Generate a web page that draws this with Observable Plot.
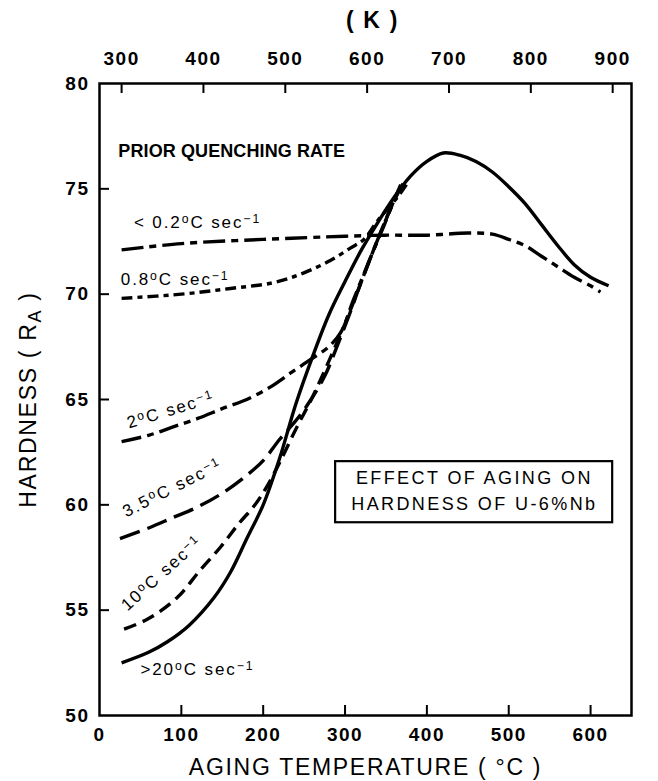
<!DOCTYPE html>
<html>
<head>
<meta charset="utf-8">
<script src="https://cdn.jsdelivr.net/npm/d3@7"></script>
<script src="https://cdn.jsdelivr.net/npm/@observablehq/plot@0.6"></script>
<style>
  html, body { margin: 0; padding: 0; background: #fff; }
  svg text { font-family: "Liberation Sans", Arial, Helvetica, sans-serif; }
  svg g[aria-label$="tick label"] text { letter-spacing: 1.5px; }
  .curvelbl text { letter-spacing: 1.9px; }
  .boxtxt text { letter-spacing: 2.4px; }
  .hdr text { letter-spacing: 0.1px; }
  .title text { letter-spacing: 1.7px; }
</style>
</head>
<body>
<div id="chart"></div>
<script>
// ---- tick values ----
const xTicks = [0, 100, 200, 300, 400, 500, 600];
const kTicks = [300, 400, 500, 600, 700, 800, 900];
const yTicks = [50, 55, 60, 65, 70, 75, 80];

// ---- series (aging temperature °C, hardness R_A) ----
const rate20T = [27, 60, 83, 110, 140, 160, 180, 200, 220, 240, 260, 280, 300, 320, 340, 360, 380, 400, 420, 440, 460, 480, 500, 520, 540, 560, 580, 600, 622];
const rate20H = [52.5, 53.0, 53.5, 54.3, 55.6, 56.8, 58.4, 60.0, 62.2, 64.8, 67.0, 69.0, 70.6, 72.1, 73.4, 74.6, 75.6, 76.3, 76.7, 76.6, 76.3, 75.8, 75.1, 74.3, 73.3, 72.3, 71.4, 70.8, 70.4];

const rate10T = [30, 60, 95, 123, 148, 170, 190, 205, 220, 240, 260, 280, 300, 320, 340, 356, 370];
const rate10H = [54.1, 54.6, 55.6, 56.9, 58.0, 59.1, 60.0, 60.9, 62.0, 63.6, 65.1, 66.8, 68.6, 70.6, 72.6, 74.1, 75.2];

const rate35T = [25, 60, 90, 120, 152, 180, 200, 220, 240, 255, 275, 290, 305, 320, 340, 355, 368];
const rate35H = [58.4, 58.9, 59.4, 59.9, 60.6, 61.4, 62.1, 63.1, 64.0, 64.8, 66.1, 67.5, 69.0, 70.6, 72.6, 74.0, 75.2];

const rate2T = [27, 60, 90, 120, 152, 180, 209, 235, 258, 280, 295, 310, 335, 347, 364, 372];
const rate2H = [63.0, 63.3, 63.7, 64.1, 64.6, 65.0, 65.6, 66.3, 66.9, 67.5, 68.2, 69.7, 72.1, 73.2, 74.8, 75.3];

const rate08T = [27, 100, 160, 213, 249, 282, 307, 323, 340, 364, 375];
const rate08H = [69.8, 70.0, 70.27, 70.55, 71.0, 71.6, 72.2, 72.6, 73.5, 74.6, 75.2];

const rate02T = [27, 100, 200, 300, 350, 400, 450, 480, 500, 520, 540, 560, 580, 600, 612];
const rate02H = [72.1, 72.4, 72.6, 72.75, 72.8, 72.8, 72.9, 72.85, 72.6, 72.3, 71.8, 71.3, 70.8, 70.4, 70.1];

// ---- curve labels ({..} = superscript, [..] = subscript) ----
const labelText = ["< 0.2{o}C sec{−1}", "0.8{o}C sec{−1}", "2{o}C sec{−1}", "3.5{o}C sec{−1}", "10{o}C sec{−1}", ">20{o}C sec{−1}"];
const labelT = [42, 26, 87, 89, 76, 50];
const labelH = [73.4, 70.7, 64.5, 60.8, 56.75, 52.2];
const labelAngle = [0, 0, -17, -27, -42, 0];
const labelAnchor = ["start", "start", "middle", "middle", "middle", "start"];

const headerText = ["PRIOR QUENCHING RATE"];
const headerT = [23];
const headerH = [76.8];

const boxLines = ["EFFECT OF AGING ON", "HARDNESS OF U-6%Nb"];
const boxLineT = [458, 458];
const boxLineH = [61.25, 60.05];
const boxT = [288.5, 627];
const boxH = [59.15, 62.05];

const xTitle = "AGING TEMPERATURE ( °C )";
const kTitle = "( K )";
const yTitle = "HARDNESS ( R[A] )";

// ---- build tables ----
const series = [
  {T: rate20T, H: rate20H, dash: null},
  {T: rate10T, H: rate10H, dash: "13,7"},
  {T: rate35T, H: rate35H, dash: "21,8"},
  {T: rate2T,  H: rate2H,  dash: "20,6,7,6"},
  {T: rate08T, H: rate08H, dash: "11,5,5,5"},
  {T: rate02T, H: rate02H, dash: "22,6,7,6"}
];
const lineMarks = series.map(s =>
  Plot.line(s.T.map((t, i) => ({t, h: s.H[i]})), {
    x: "t", y: "h", curve: "catmull-rom", stroke: "black",
    strokeWidth: 3.4, strokeDasharray: s.dash, strokeLinecap: "butt"
  })
);
const labels = labelText.map((text, i) => ({text, t: labelT[i], h: labelH[i], a: labelAngle[i], anchor: labelAnchor[i]}));
const labelMarks = labels.map(d =>
  Plot.text([d], {x: "t", y: "h", text: "text", rotate: d.a, textAnchor: d.anchor, fontSize: 17, fontWeight: "normal", className: "curvelbl"})
);

const innerX = xTicks.filter(v => v > 0);
const innerY = yTicks.filter(v => v > 50 && v < 80);
const kAsC = kTicks.map(k => k - 273);

const svg = Plot.plot({
  width: 658,
  height: 781,
  marginLeft: 99,
  marginRight: 27,
  marginTop: 83,
  marginBottom: 66,
  x: {domain: [0, 650]},
  y: {domain: [50, 80]},
  style: {fontSize: "19px", fontWeight: "bold", background: "white", color: "black"},
  marks: [
    Plot.axisX(xTicks, {anchor: "bottom", tickSize: 0, tickPadding: 12, label: null, fontSize: 19, fontWeight: "bold"}),
    Plot.axisX(kAsC, {anchor: "top", tickSize: 0, tickPadding: 19, tickFormat: d => String(d + 273), label: null, fontSize: 19, fontWeight: "bold"}),
    Plot.axisY(yTicks, {anchor: "left", tickSize: 0, tickPadding: 10, label: null, fontSize: 19, fontWeight: "bold"}),
    Plot.tickX(innerX, {x: d => d, insetTop: 622, strokeWidth: 2}),
    Plot.tickX(kAsC, {x: d => d, insetBottom: 622, strokeWidth: 2}),
    Plot.tickY(innerY, {y: d => d, insetRight: 522, strokeWidth: 2}),
    ...lineMarks,
    Plot.rect([{x1: boxT[0], x2: boxT[1], y1: boxH[0], y2: boxH[1]}], {x1: "x1", x2: "x2", y1: "y1", y2: "y2", fill: "white", stroke: "black", strokeWidth: 2.2}),
    Plot.text(boxLines.map((s, i) => ({s, t: boxLineT[i], h: boxLineH[i]})), {x: "t", y: "h", text: "s", fontSize: 18, fontWeight: "normal", className: "boxtxt"}),
    Plot.text(headerText.map((s, i) => ({s, t: headerT[i], h: headerH[i]})), {x: "t", y: "h", text: "s", textAnchor: "start", fontSize: 18, fontWeight: "bold", className: "hdr"}),
    ...labelMarks,
    Plot.text([xTitle], {frameAnchor: "bottom", textAnchor: "middle", lineAnchor: "middle", dy: 52, fontSize: 23, fontWeight: "normal", className: "title"}),
    Plot.text([kTitle], {frameAnchor: "top", textAnchor: "middle", lineAnchor: "middle", dy: -63, dx: 7, fontSize: 23, fontWeight: "bold", className: "title"}),
    Plot.text([yTitle], {frameAnchor: "left", textAnchor: "middle", lineAnchor: "middle", dx: -71, rotate: -90, fontSize: 23, fontWeight: "normal", className: "title"}),
    Plot.frame({stroke: "black", strokeWidth: 2.5})
  ]
});

// superscript / subscript markup -> tspans
d3.select(svg).selectAll("text").each(function() {
  const el = this;
  const s = el.textContent;
  if (!/[{\[]/.test(s) || el.querySelector("tspan")) return;
  el.textContent = "";
  const re = /(\{[^}]*\}|\[[^\]]*\]|[^{\[]+)/g;
  let m;
  while ((m = re.exec(s))) {
    const part = m[0];
    const ts = document.createElementNS("http://www.w3.org/2000/svg", "tspan");
    if (part[0] === "{") {
      ts.textContent = part.slice(1, -1);
      ts.setAttribute("baseline-shift", "45%");
      ts.setAttribute("font-size", "72%");
    } else if (part[0] === "[") {
      ts.textContent = part.slice(1, -1);
      ts.setAttribute("baseline-shift", "-25%");
      ts.setAttribute("font-size", "78%");
    } else {
      ts.textContent = part;
    }
    el.appendChild(ts);
  }
});

document.getElementById("chart").appendChild(svg);
</script>
</body>
</html>
